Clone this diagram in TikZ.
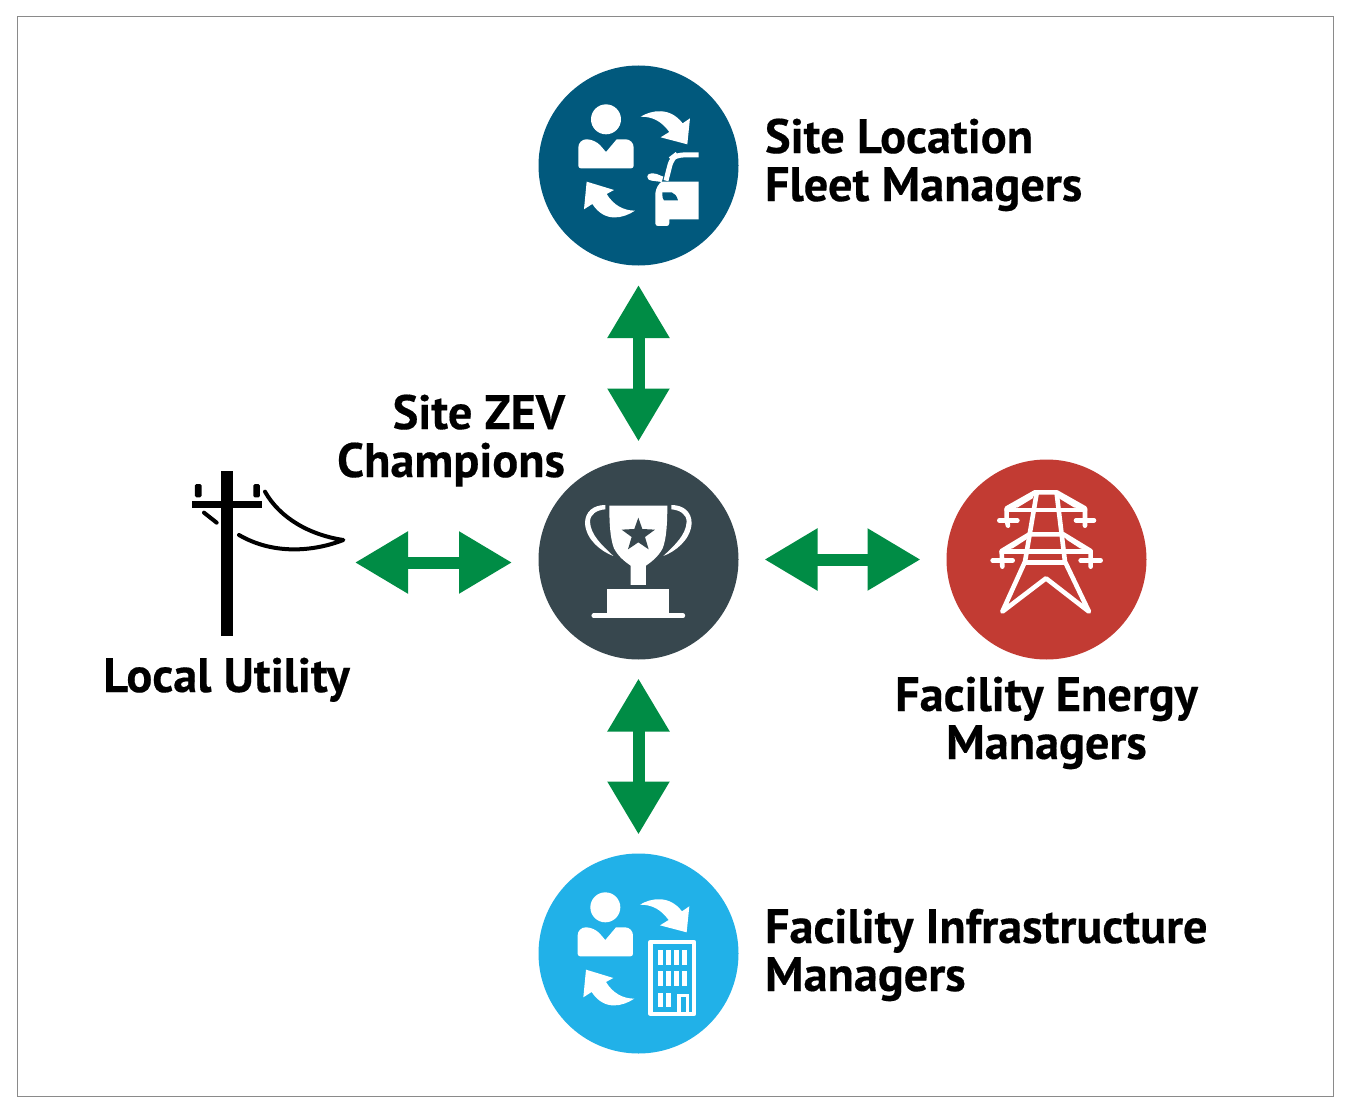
\documentclass[tikz,border=0pt]{standalone}
\usepackage{fontspec}
\setmainfont[BoldFeatures={FakeBold=0.35}]{PT Sans}
\usetikzlibrary{arrows.meta}
\definecolor{cfleet}{HTML}{01597D}
\definecolor{cchamp}{HTML}{37474E}
\definecolor{cenergy}{HTML}{C23B33}
\definecolor{cinfra}{HTML}{21B1E8}
\definecolor{cgreen}{HTML}{008C45}
\definecolor{cframe}{HTML}{8A8A8A}
\tikzset{
  disc/.style={circle,minimum size=200pt,inner sep=0pt,outer sep=0pt,draw=none},
  lab/.style={font=\fontsize{48.3}{48}\selectfont\bfseries,inner sep=0pt,outer sep=0pt,text=black},
  twoway/.style={line width=12pt,cgreen,{Triangle[length=53pt,width=59pt]}-{Triangle[length=53pt,width=59pt]}},
  wire/.style={draw=white,line width=4.6pt,line cap=round,line join=round},
  pw/.style={draw=black,line width=4pt,line cap=round,line join=round}
}
\newcommand{\PersonArrows}{%
  \fill[white] (228,178) circle[radius=45];
  \fill[white,rounded corners=8pt] (145,290) -- (145,238) -- (195,238) [sharp corners] -- (228,276) -- (260,238) [rounded corners=8pt] -- (311,238) -- (311,290) [rounded corners=2.5pt] -- (311,325) -- (145,325) -- (145,290) -- cycle;
  \fill[white] (332,170) .. controls (365,150) and (420,140) .. (458,190) -- (480,175) -- (472,253) -- (392,232) -- (418,216) .. controls (395,185) and (370,170) .. (332,170) -- cycle;
  \fill[white] (315,452) .. controls (280,475) and (225,490) .. (187,432) -- (162,448) -- (170,365) -- (252,390) -- (230,402) .. controls (250,435) and (280,452) .. (315,452) -- cycle;
}
\begin{document}
\begin{tikzpicture}[x=1pt,y=-1pt]
\useasboundingbox (0,0) rectangle (1350,1113);
\fill[white] (0,0) rectangle (1350,1113);
\draw[cframe,line width=1pt] (17,17) rectangle (1333,1096);

% discs
\node[disc,fill=cfleet] (fleet) at (638.5,165.5) {};
\node[disc,fill=cchamp] (champ) at (638.5,559.5) {};
\node[disc,fill=cenergy] (energy) at (1046.5,559.5) {};
\node[disc,fill=cinfra] (infra) at (638.5,953.5) {};

% connectors
\coordinate (utilend) at (355,562.5);
\coordinate (champleft) at (512,562.5);
\draw[twoway,shorten <=19.5pt,shorten >=18pt] (fleet) -- (champ);
\draw[twoway,shorten <=19pt,shorten >=19pt] (champ) -- (infra);
\draw[twoway,shorten <=26pt,shorten >=26pt] (champ) -- (energy);
\draw[twoway] (utilend) -- (champleft);

% fleet icon
\begin{scope}[shift={(530,60)},x=0.3333pt,y=-0.3333pt]
  \PersonArrows
  \draw[white,line width=5pt,rounded corners=7pt] (506,285) -- (438,285) -- (425,295) -- (408,362);
  \fill[white] (352,350) .. controls (352,340) and (365,338) .. (380,342) -- (400,350) -- (395,366) -- (365,362) .. controls (355,360) and (352,356) .. (352,350) -- cycle;
  \fill[white] (506,365) -- (506,478) -- (418,478) -- (418,490) .. controls (418,495) and (414,498) .. (410,498) -- (384,498) .. controls (379,498) and (376,495) .. (376,490) -- (376,400) .. controls (378,385) and (385,372) .. (395,365) -- cycle;
  \fill[cfleet] (397,397) -- (425,397) .. controls (435,400) and (440,408) .. (444,421) -- (402,421) .. controls (398,418) and (397,410) .. (397,397) -- cycle;
\end{scope}

% trophy icon
\begin{scope}[shift={(530,455)},x=0.3333pt,y=-0.3333pt]
  \fill[white] (238,152) -- (412,152) .. controls (412,200) and (410,250) .. (398,280) .. controls (385,305) and (365,320) .. (348,332) -- (348,390) -- (302,390) -- (302,332) .. controls (285,320) and (265,305) .. (252,280) .. controls (240,250) and (238,200) .. (238,152) -- cycle;
  \fill[cchamp] (325,188) -- (337,222) -- (375,224) -- (345,246) -- (356,283) -- (325,262) -- (294,283) -- (305,246) -- (275,224) -- (313,222) -- cycle;
  \fill[white] (226,150) .. controls (190,150) and (165,170) .. (165,205) .. controls (168,255) and (215,290) .. (250,303) .. controls (215,270) and (182,240) .. (180,200) .. controls (180,178) and (200,165) .. (226,163) -- cycle;
  \fill[white] (424,150) .. controls (460,150) and (485,170) .. (485,205) .. controls (482,255) and (435,290) .. (400,303) .. controls (435,270) and (468,240) .. (470,200) .. controls (470,178) and (450,165) .. (424,163) -- cycle;
  \fill[white] (232,402) rectangle (418,478);
  \draw[white,line width=4.4pt,line cap=round] (191,482) -- (459,482);
\end{scope}

% tower icon
\begin{scope}[shift={(940,455)},x=0.3333pt,y=-0.3333pt]
  \fill[white] (200,160) -- (285,112) -- (278,130) -- (232,158) -- cycle;
  \fill[white] (435,160) -- (350,112) -- (357,130) -- (403,158) -- cycle;
  \fill[white] (185,288) -- (268,238) -- (258,254) -- (218,280) -- cycle;
  \fill[white] (452,288) -- (370,238) -- (380,254) -- (420,280) -- cycle;
  \draw[wire] (204,212) -- (200,196) -- (200,160) -- (285,112) -- (350,112) -- (435,160) -- (435,212);
  \draw[wire] (200,165) -- (435,165);
  \draw[wire] (178,196) -- (232,196);
  \draw[wire] (408,196) -- (462,196);
  \draw[wire] (187,335) -- (185,288) -- (268,238) -- (370,238) -- (452,288) -- (452,335);
  \draw[wire] (185,290) -- (452,290);
  \draw[wire] (158,316) -- (218,316);
  \draw[wire] (422,316) -- (482,316);
  \draw[wire] (290,115) -- (255,320) -- (187,470) -- (318,370) -- (447,470) -- (375,320) -- (350,115);
  \draw[wire] (255,322) -- (375,322);
\end{scope}

% infrastructure icon
\begin{scope}[shift={(530,850)},x=0.3333pt,y=-0.3333pt]
  \begin{scope}[shift={(-2,-6)}]
    \PersonArrows
  \end{scope}
  \draw[white,line width=4.4pt,line join=round] (362,276) rectangle (492,492);
  \foreach \cx in {392,416,440,464}{
    \fill[white] (\cx-8,301) rectangle (\cx+8,346);
    \fill[white] (\cx-8,362) rectangle (\cx+8,407);
  }
  \foreach \cx in {392,416}{
    \fill[white] (\cx-8,428) rectangle (\cx+8,472);
  }
  \draw[white,line width=3.4pt] (447,486) -- (447,437) -- (472,437) -- (472,486);
\end{scope}

% utility pole
\begin{scope}[shift={(170,460)},x=0.3333pt,y=-0.3333pt]
  \fill[black] (153,32) rectangle (190,527);
  \fill[black] (67,122) rectangle (277,145);
  \fill[black,rounded corners=1.5pt] (75,72) rectangle (95,112);
  \fill[black,rounded corners=1.5pt] (250,72) rectangle (270,112);
  \draw[pw] (102,158) -- (140,188);
  \draw[pw] (285,95) .. controls (330,175) and (420,225) .. (520,240) .. controls (430,275) and (310,285) .. (207,225);
\end{scope}

% labels
\node[lab,anchor=base west,align=left] (tfleet) at (765,201) {Site Location\\Fleet Managers};
\node[lab,anchor=base east,align=right] (tchamp) at (565,477) {Site ZEV\\Champions};
\node[lab,anchor=base] (tutil) at (226.5,692) {Local Utility};
\node[lab,anchor=base,align=center] (tenergy) at (1046.5,759) {Facility Energy\\Managers};
\node[lab,anchor=base west,align=left] (tinfra) at (765,991) {Facility Infrastructure\\Managers};
\end{tikzpicture}
\end{document}
